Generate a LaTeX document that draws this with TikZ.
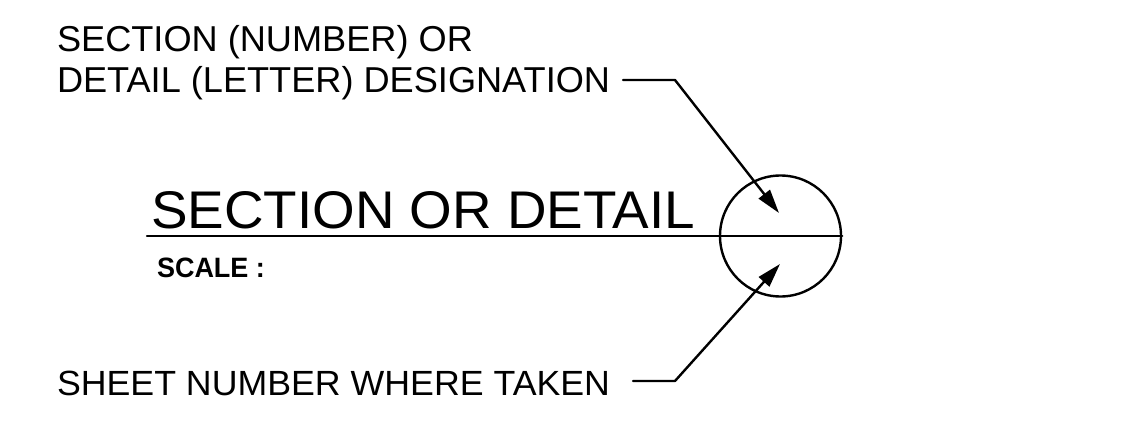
\documentclass[tikz,border=0pt]{standalone}
\usepackage{fontspec}
\setmainfont{Liberation Sans}
\usetikzlibrary{arrows.meta}
\newcommand{\fitw}[2]{\resizebox{#1}{\height}{#2}}
\tikzset{
  lbl/.style={anchor=base west, inner sep=0pt, outer sep=0pt},
  ln/.style={line width=2.4pt, line join=round, line cap=round},
  lead/.style={ln, -{Triangle[length=24pt,width=14pt]}},
}
\begin{document}
\begin{tikzpicture}[x=1pt,y=-1pt]
\useasboundingbox (0,0) rectangle (1144,425);
% texts
\node[lbl] (t1) at (57,52) {\fitw{416pt}{\fontsize{36}{40}\selectfont SECTION (NUMBER) OR}};
\node[lbl] (t2) at (57,93) {\fitw{553pt}{\fontsize{36}{40}\selectfont DETAIL (LETTER) DESIGNATION}};
\node[lbl] (title) at (151,228) {\fitw{544pt}{\fontsize{53}{56}\selectfont SECTION OR DETAIL}};
\node[lbl] (scale) at (157,277) {\fitw{108pt}{\fontsize{28}{30}\selectfont\bfseries SCALE :}};
\node[lbl] (t3) at (57,395) {\fitw{553pt}{\fontsize{35}{40}\selectfont SHEET NUMBER WHERE TAKEN}};
% circle
\node[draw, ln, circle, minimum size=121pt, inner sep=0pt] (c) at (780.5,236) {};
\coordinate (ls) at (147,236);
\draw[ln] (ls) -- (c.east);
% leaders
\coordinate (a1s) at (623,80);
\coordinate (a1b) at (675,80);
\coordinate (a1t) at (779,213);
\coordinate (a2s) at (633,381);
\coordinate (a2b) at (675,381);
\coordinate (a2t) at (780,264);
\draw[lead] (a1s) -- (a1b) -- (a1t);
\draw[lead] (a2s) -- (a2b) -- (a2t);
\end{tikzpicture}
\end{document}
